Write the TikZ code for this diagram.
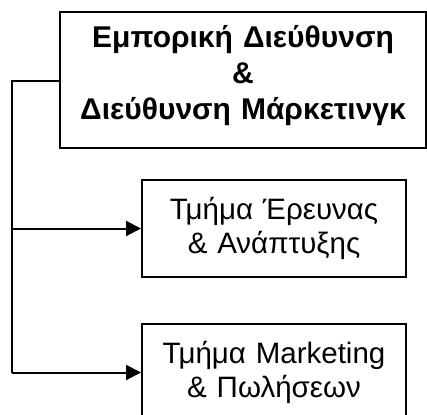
\documentclass[tikz,border=0pt]{standalone}
\usepackage{fontspec}
\setmainfont{Liberation Sans}
\usetikzlibrary{arrows.meta}
\begin{document}
\begin{tikzpicture}[x=1pt,y=-1pt,
  line width=2pt,
  box/.style={draw=black, rectangle, inner sep=0pt, align=center, line width=2pt},
  headbox/.style={box, font=\bfseries\fontsize{30}{36}\selectfont},
  unitbox/.style={box, font=\fontsize{29.5}{34}\selectfont},
  link/.style={-{Triangle[length=15pt,width=15pt]}, line width=2pt}
]
\useasboundingbox (0,0) rectangle (427,414);
\clip (0,0) rectangle (427,414);
% head office: 366 x 136 box, first baseline 36 below its top
\node[headbox, text width=366pt, text height=36pt, text depth=100pt] (head) at (243,80)
  {Εμπορική Διεύθυνση\\\&\\Διεύθυνση Μάρκετινγκ};
% departments: 264 x 97 boxes, first baseline 39.5 below the top
\node[unitbox, text width=264pt, text height=39.5pt, text depth=57.5pt] (rnd) at (274,228.5)
  {Τμήμα Έρευνας\\\& Ανάπτυξης};
\node[unitbox, text width=264pt, text height=39.5pt, text depth=57.5pt] (mkt) at (274,372.5)
  {Τμήμα Marketing\\\& Πωλήσεων};
% connectors
\coordinate (turn) at (12,81);
\draw (head.west |- turn) -- (turn) -- (turn |- mkt.west);
\draw[link] (turn |- rnd.west) -- (rnd.west);
\draw[link] (turn |- mkt.west) -- (mkt.west);
\end{tikzpicture}
\end{document}
